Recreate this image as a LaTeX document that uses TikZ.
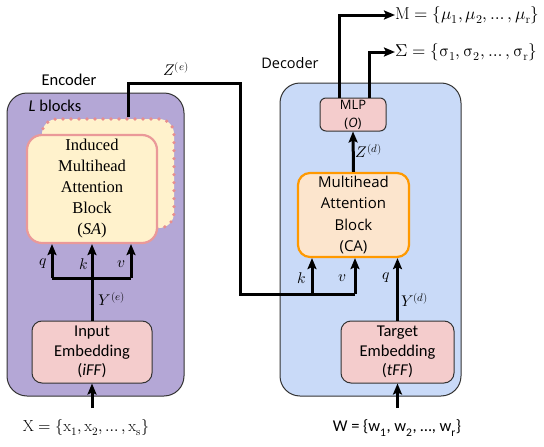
\documentclass[tikz,border=0pt]{standalone}
\usepackage{fontspec}
\usepackage{unicode-math}
\setmathfont{Latin Modern Math}
\newfontfamily\calfont{Carlito}
\newfontfamily\opfont{Open Sans}
\newfontfamily\serfont{Liberation Serif}
\usetikzlibrary{arrows.meta}
\definecolor{encfill}{HTML}{B4A7D6}
\definecolor{decfill}{HTML}{C9DAF8}
\definecolor{embfill}{HTML}{F4CCCC}
\definecolor{safill}{HTML}{FFF2CC}
\definecolor{saline}{HTML}{EA9999}
\definecolor{dotline}{HTML}{E88E8E}
\definecolor{cafill}{HTML}{FCE5CD}
\definecolor{caline}{HTML}{FF9900}
\newcommand\mathlab{\fontsize{15.5}{18}\selectfont}
\tikzset{
  outerbox/.style={rectangle, rounded corners=20pt, draw=black!80, line width=1pt, inner sep=0pt},
  embbox/.style={rectangle, rounded corners=10pt, draw=black!80, line width=1pt, fill=embfill, inner sep=0pt, align=center,
    font=\calfont\fontsize{16.5}{19.5}\selectfont},
  wire/.style={line width=3pt},
  arr/.style={line width=3pt, -{Stealth[length=11pt,width=9pt,inset=2pt]}},
  lab/.style={inner sep=0pt, font=\mathlab},
}
\begin{document}
\begin{tikzpicture}[x=1pt,y=-1pt]
\useasboundingbox (0,0) rectangle (544,447);
% outer containers
\node[outerbox, fill=encfill, minimum width=177pt, minimum height=303pt] (enc) at (95.5,244.5) {};
\node[outerbox, fill=decfill, minimum width=181pt, minimum height=313pt] (dec) at (370.5,239.5) {};
\node[inner sep=0pt, font=\calfont\fontsize{16.5}{20}\selectfont] (enclab) at (69,80) {Encoder};
\node[inner sep=0pt, font=\calfont\fontsize{16.5}{20}\selectfont] (lblab) at (55,106) {\textit{L} blocks};
\node[inner sep=0pt, font=\opfont\fontsize{14.5}{18}\selectfont] (declab) at (290,63) {Decoder};
% encoder blocks
\node[rectangle, rounded corners=15pt, fill=safill, draw=dotline, line width=3.6pt, dash pattern=on 0pt off 8pt, line cap=round,
  minimum width=132pt, minimum height=109pt, inner sep=0pt] (saback) at (108,173.5) {};
\node[rectangle, rounded corners=15pt, fill=safill, draw=saline, line width=2.2pt, minimum width=130pt, minimum height=108pt,
  inner sep=0pt, align=center, font=\serfont\fontsize{16.5}{21}\selectfont] (sa) at (92,189)
  {Induced\\Multihead\\Attention\\Block\\(\textit{SA})};
\node[embbox, minimum width=120pt, minimum height=62pt] (ie) at (92,352) {Input\\Embedding\\(\textit{iFF})};
% decoder blocks
\node[embbox, minimum width=113pt, minimum height=62pt] (te) at (397.5,352) {Target\\Embedding\\(\textit{tFF})};
\node[rectangle, rounded corners=12pt, fill=cafill, draw=caline, line width=2.2pt, minimum width=111pt, minimum height=84pt,
  inner sep=0pt, align=center, font=\opfont\fontsize{15}{21.5}\selectfont] (ca) at (353.5,215)
  {Multihead\\Attention\\Block\\(CA)};
\node[rectangle, rounded corners=6pt, fill=embfill, draw=black!80, line width=1pt, minimum width=66pt, minimum height=33pt,
  inner sep=0pt, align=center, font=\opfont\fontsize{13}{18}\selectfont] (mlp) at (353,114.5) {MLP\\(\textit{O})};
% inputs
\node[lab, font=\fontsize{16}{19}\selectfont] (xlab) at (86,428) {$\mathrm{X} = \{\mathrm{x}_1, \mathrm{x}_2, \ldots, \mathrm{x}_\mathrm{s}\}$};
\node[inner sep=0pt, font=\calfont\fontsize{16.5}{19}\selectfont] (wlab) at (397,428) {W = \{w\textsubscript{1}, w\textsubscript{2}, …, w\textsubscript{r}\}};
\coordinate (xin) at (92,408);
\coordinate (win) at (397.5,408);
\draw[arr] (xin) -- (ie.south);
\draw[arr] (win) -- (te.south);
% encoder q k v
\coordinate (qb) at (52,278);
\coordinate (vb) at (131,278);
\draw[wire] (qb) -- (vb);
\draw[arr] (ie.north) -- (sa.south);
\draw[arr] (qb) -- (qb |- sa.south);
\draw[arr] (vb) -- (vb |- sa.south);
\node[lab] (qlab) at (43,264) {$q$};
\node[lab] (klab) at (83.5,264) {$k$};
\node[lab] (vlab) at (121.5,264) {$v$};
\node[lab] (yelab) at (112,299) {$Y^{(e)}$};
% Z(e) route
\coordinate (z1) at (128,83);
\coordinate (z2) at (240,83);
\coordinate (z3) at (240,294);
\coordinate (kb) at (312,294);
\coordinate (vdb) at (355,294);
\draw[wire, line join=miter] ([xshift=20pt]saback.north) -- (z1) -- (z2) -- (z3) -- (vdb);
\node[lab] (zelab) at (176,69) {$Z^{(e)}$};
\draw[arr] (kb) -- (kb |- ca.south);
\draw[arr] (vdb) -- (vdb |- ca.south);
\draw[arr] (te.north) -- (te.north |- ca.south);
\node[lab] (kdlab) at (302,278) {$k$};
\node[lab] (vdlab) at (342,278) {$v$};
\node[lab] (qdlab) at (386,278) {$q$};
\node[lab] (ydlab) at (415,300) {$Y^{(d)}$};
\draw[arr] (ca.north) -- (mlp.south);
\node[lab] (zdlab) at (369,151) {$Z^{(d)}$};
% outputs
\coordinate (m1) at (339,15);
\coordinate (s1) at (369,52);
\node[lab, anchor=west, font=\fontsize{17.2}{19}\selectfont] (mlab) at (395,15) {$\mathrm{M} = \{\mu_1, \mu_2, \ldots, \mu_\mathrm{r}\}$};
\node[lab, anchor=west, font=\fontsize{17.2}{19}\selectfont] (slab) at (395,52) {$\Sigma = \{\upsigma_1, \upsigma_2, \ldots, \upsigma_\mathrm{r}\}$};
\draw[arr, line join=miter] (mlp.north -| m1) -- (m1) -- (mlab.west);
\draw[arr, line join=miter] (mlp.north -| s1) -- (s1) -- (slab.west);
\end{tikzpicture}
\end{document}
